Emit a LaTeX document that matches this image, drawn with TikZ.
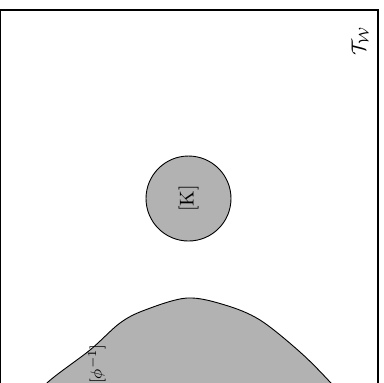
\documentclass[tikz,border=0pt]{standalone}
\usepackage{amsmath}
\begin{document}
\begin{tikzpicture}[x=0.5pt,y=-0.5pt,
  region/.style={draw=black, fill=black!30, line width=0.45pt},
  frame/.style={draw=black, line width=0.6pt}]
\useasboundingbox (0,0) rectangle (384,382);
\clip (0,0) rectangle (384,382);
\draw[region] plot[smooth, tension=0.55] coordinates {(20,412) (48,382) (90,350) (120,323) (145,310) (187,298) (225,305) (260,320) (300,352) (330,382) (356,412)} -- cycle;
\node[region, circle, minimum size=42.5pt, inner sep=0pt, rotate=90] (K) at (188.5,198.5) {[K]};
\node[rotate=90, inner sep=0pt, font=\footnotesize] (phi) at (97,364) {$[\phi^{-1}]$};
\node[rotate=90, inner sep=0pt] (T) at (360,41) {$\mathcal{T}_{\mathcal{W}}$};
\draw[frame] (0,10) rectangle (378,430);
\end{tikzpicture}
\end{document}
